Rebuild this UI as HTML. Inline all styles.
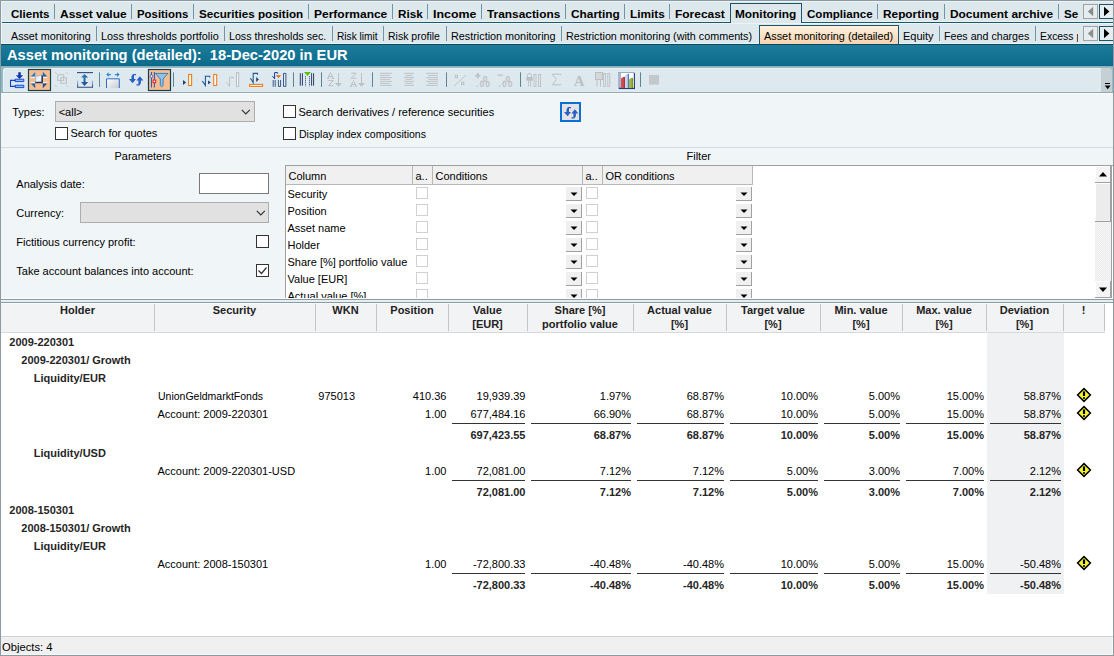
<!DOCTYPE html><html><head><meta charset="utf-8"><style>body{margin:0;width:1114px;height:656px;position:relative;overflow:hidden;background:#fff;font-family:"Liberation Sans",sans-serif}</style></head><body><div style="position:absolute;left:0px;top:0px;width:1114px;height:44px;background:#dde8ed"></div>
<div style="position:absolute;left:0px;top:21px;width:1114px;height:1px;background:#eaf0f4"></div>
<div style="position:absolute;left:0px;top:22px;width:1114px;height:1px;background:#17596e"></div>
<div style="position:absolute;left:1px;top:1px;width:1112px;height:1px;background:#e9f3f8"></div>
<div style="position:absolute;left:1px;top:1px;width:1px;height:43px;background:#e9f3f8"></div>
<div style="position:absolute;left:0px;top:23px;width:1114px;height:1px;background:#eef3f6"></div>
<div style="position:absolute;left:730px;top:3px;width:72px;height:20px;background:#dde8ed;border:1px solid #1d5468;border-bottom:none;box-sizing:border-box"></div>
<div style="position:absolute;left:10.50px;top:8.69px;font:bold 11px/1 'Liberation Sans';color:#000;white-space:pre;transform:scaleX(1.0494);transform-origin:0 0;">Clients</div>
<div style="position:absolute;left:59.50px;top:8.69px;font:bold 11px/1 'Liberation Sans';color:#000;white-space:pre;transform:scaleX(1.0906);transform-origin:0 0;">Asset value</div>
<div style="position:absolute;left:136.80px;top:8.69px;font:bold 11px/1 'Liberation Sans';color:#000;white-space:pre;transform:scaleX(1.0360);transform-origin:0 0;">Positions</div>
<div style="position:absolute;left:198.70px;top:8.69px;font:bold 11px/1 'Liberation Sans';color:#000;white-space:pre;transform:scaleX(1.0587);transform-origin:0 0;">Securities position</div>
<div style="position:absolute;left:313.90px;top:8.69px;font:bold 11px/1 'Liberation Sans';color:#000;white-space:pre;transform:scaleX(1.0897);transform-origin:0 0;">Performance</div>
<div style="position:absolute;left:397.90px;top:8.69px;font:bold 11px/1 'Liberation Sans';color:#000;white-space:pre;transform:scaleX(1.0624);transform-origin:0 0;">Risk</div>
<div style="position:absolute;left:432.70px;top:8.69px;font:bold 11px/1 'Liberation Sans';color:#000;white-space:pre;transform:scaleX(1.1268);transform-origin:0 0;">Income</div>
<div style="position:absolute;left:487.00px;top:8.69px;font:bold 11px/1 'Liberation Sans';color:#000;white-space:pre;transform:scaleX(1.0802);transform-origin:0 0;">Transactions</div>
<div style="position:absolute;left:570.50px;top:8.69px;font:bold 11px/1 'Liberation Sans';color:#000;white-space:pre;transform:scaleX(1.0810);transform-origin:0 0;">Charting</div>
<div style="position:absolute;left:629.50px;top:8.69px;font:bold 11px/1 'Liberation Sans';color:#000;white-space:pre;transform:scaleX(1.0708);transform-origin:0 0;">Limits</div>
<div style="position:absolute;left:674.60px;top:8.69px;font:bold 11px/1 'Liberation Sans';color:#000;white-space:pre;transform:scaleX(1.0859);transform-origin:0 0;">Forecast</div>
<div style="position:absolute;left:735.20px;top:8.69px;font:bold 11px/1 'Liberation Sans';color:#000;white-space:pre;transform:scaleX(1.0769);transform-origin:0 0;">Monitoring</div>
<div style="position:absolute;left:806.50px;top:8.69px;font:bold 11px/1 'Liberation Sans';color:#000;white-space:pre;transform:scaleX(1.0520);transform-origin:0 0;">Compliance</div>
<div style="position:absolute;left:883.00px;top:8.69px;font:bold 11px/1 'Liberation Sans';color:#000;white-space:pre;transform:scaleX(1.0760);transform-origin:0 0;">Reporting</div>
<div style="position:absolute;left:950.00px;top:8.69px;font:bold 11px/1 'Liberation Sans';color:#000;white-space:pre;transform:scaleX(1.0799);transform-origin:0 0;">Document archive</div>
<div style="position:absolute;left:54px;top:4px;width:1px;height:15px;background:#6f95a4"></div>
<div style="position:absolute;left:131px;top:4px;width:1px;height:15px;background:#6f95a4"></div>
<div style="position:absolute;left:193px;top:4px;width:1px;height:15px;background:#6f95a4"></div>
<div style="position:absolute;left:308px;top:4px;width:1px;height:15px;background:#6f95a4"></div>
<div style="position:absolute;left:392px;top:4px;width:1px;height:15px;background:#6f95a4"></div>
<div style="position:absolute;left:427px;top:4px;width:1px;height:15px;background:#6f95a4"></div>
<div style="position:absolute;left:481px;top:4px;width:1px;height:15px;background:#6f95a4"></div>
<div style="position:absolute;left:565px;top:4px;width:1px;height:15px;background:#6f95a4"></div>
<div style="position:absolute;left:624px;top:4px;width:1px;height:15px;background:#6f95a4"></div>
<div style="position:absolute;left:669px;top:4px;width:1px;height:15px;background:#6f95a4"></div>
<div style="position:absolute;left:877px;top:4px;width:1px;height:15px;background:#6f95a4"></div>
<div style="position:absolute;left:944px;top:4px;width:1px;height:15px;background:#6f95a4"></div>
<div style="position:absolute;left:1058px;top:4px;width:1px;height:15px;background:#6f95a4"></div>
<div style="position:absolute;left:1062px;top:0;width:18px;height:22px;overflow:hidden"><div style="position:absolute;left:1.5px;top:8.7px;font:bold 11px/1 'Liberation Sans';transform:scaleX(1.06);transform-origin:0 0;color:#000">Se</div></div>
<div style="position:absolute;left:759px;top:25px;width:140px;height:19px;background:linear-gradient(#fdf1de,#f6d3b0);border:1px solid #1d5468;border-bottom:none;box-sizing:border-box"></div>
<div style="position:absolute;left:10.50px;top:31.19px;font:normal 11px/1 'Liberation Sans';color:#000;white-space:pre;transform:scaleX(0.9739);transform-origin:0 0;">Asset monitoring</div>
<div style="position:absolute;left:101.00px;top:31.19px;font:normal 11px/1 'Liberation Sans';color:#000;white-space:pre;transform:scaleX(0.9871);transform-origin:0 0;">Loss thresholds portfolio</div>
<div style="position:absolute;left:228.80px;top:31.19px;font:normal 11px/1 'Liberation Sans';color:#000;white-space:pre;transform:scaleX(0.9693);transform-origin:0 0;">Loss thresholds sec.</div>
<div style="position:absolute;left:336.90px;top:31.19px;font:normal 11px/1 'Liberation Sans';color:#000;white-space:pre;transform:scaleX(0.9227);transform-origin:0 0;">Risk limit</div>
<div style="position:absolute;left:388.00px;top:31.19px;font:normal 11px/1 'Liberation Sans';color:#000;white-space:pre;transform:scaleX(0.9539);transform-origin:0 0;">Risk profile</div>
<div style="position:absolute;left:450.80px;top:31.19px;font:normal 11px/1 'Liberation Sans';color:#000;white-space:pre;transform:scaleX(0.9833);transform-origin:0 0;">Restriction monitoring</div>
<div style="position:absolute;left:566.30px;top:31.19px;font:normal 11px/1 'Liberation Sans';color:#000;white-space:pre;transform:scaleX(0.9788);transform-origin:0 0;">Restriction monitoring (with comments)</div>
<div style="position:absolute;left:763.50px;top:31.19px;font:normal 11px/1 'Liberation Sans';color:#000;white-space:pre;transform:scaleX(0.9874);transform-origin:0 0;">Asset monitoring (detailed)</div>
<div style="position:absolute;left:903.00px;top:31.19px;font:normal 11px/1 'Liberation Sans';color:#000;white-space:pre;">Equity</div>
<div style="position:absolute;left:944.30px;top:31.19px;font:normal 11px/1 'Liberation Sans';color:#000;white-space:pre;transform:scaleX(0.9686);transform-origin:0 0;">Fees and charges</div>
<div style="position:absolute;left:96px;top:26px;width:1px;height:15px;background:#6f95a4"></div>
<div style="position:absolute;left:224px;top:26px;width:1px;height:15px;background:#6f95a4"></div>
<div style="position:absolute;left:332px;top:26px;width:1px;height:15px;background:#6f95a4"></div>
<div style="position:absolute;left:383px;top:26px;width:1px;height:15px;background:#6f95a4"></div>
<div style="position:absolute;left:446px;top:26px;width:1px;height:15px;background:#6f95a4"></div>
<div style="position:absolute;left:561px;top:26px;width:1px;height:15px;background:#6f95a4"></div>
<div style="position:absolute;left:939px;top:26px;width:1px;height:15px;background:#6f95a4"></div>
<div style="position:absolute;left:1035px;top:26px;width:1px;height:15px;background:#6f95a4"></div>
<div style="position:absolute;left:1040px;top:22px;width:38px;height:22px;overflow:hidden"><div style="position:absolute;left:0.3px;top:9.2px;font:normal 11px/1 'Liberation Sans';color:#000;white-space:pre;transform:scaleX(0.945);transform-origin:0 0">Excess p</div></div>
<div style="position:absolute;left:1083px;top:4px;width:15px;height:15px;background:#e6edf1;border:1px solid #a3a3a3;box-sizing:border-box"></div>
<svg style="position:absolute;left:1083px;top:4px" width="15" height="15"><path d="M4.8 7.5 L10.2 2.7 L10.2 12.3 Z" fill="#8c8c8c"/></svg>
<div style="position:absolute;left:1099px;top:4px;width:16px;height:15px;background:#e6edf1;border:1px solid #1d5468;box-sizing:border-box"></div>
<svg style="position:absolute;left:1099px;top:4px" width="15" height="15"><path d="M5 2.7 L10.4 7.5 L5 12.3 Z" fill="#000"/></svg>
<div style="position:absolute;left:1083px;top:26px;width:15px;height:15px;background:#e6edf1;border:1px solid #a3a3a3;box-sizing:border-box"></div>
<svg style="position:absolute;left:1083px;top:26px" width="15" height="15"><path d="M4.8 7.5 L10.2 2.7 L10.2 12.3 Z" fill="#8c8c8c"/></svg>
<div style="position:absolute;left:1099px;top:26px;width:16px;height:15px;background:#e6edf1;border:1px solid #1d5468;box-sizing:border-box"></div>
<svg style="position:absolute;left:1099px;top:26px" width="15" height="15"><path d="M5 2.7 L10.4 7.5 L5 12.3 Z" fill="#000"/></svg>
<div style="position:absolute;left:0px;top:43px;width:759px;height:1px;background:#eaf3f8"></div>
<div style="position:absolute;left:899px;top:43px;width:215px;height:1px;background:#eaf3f8"></div>
<div style="position:absolute;left:0px;top:44px;width:1114px;height:22px;background:linear-gradient(#1f7c9b,#0b6b8b)"></div>
<div style="position:absolute;left:0px;top:44px;width:1114px;height:1px;background:#0a4b61"></div>
<div style="position:absolute;left:0px;top:65px;width:1114px;height:1px;background:#036a8b"></div>
<div style="position:absolute;left:6.80px;top:46.58px;font:bold 15.5px/1 'Liberation Sans';color:#fff;white-space:pre;transform:scaleX(0.9460);transform-origin:0 0;">Asset monitoring (detailed):  18-Dec-2020 in EUR</div>
<div style="position:absolute;left:0px;top:66px;width:1114px;height:1px;background:#9ea8ad"></div>
<div style="position:absolute;left:0px;top:67px;width:1114px;height:25px;background:#8dbccb"></div>
<div style="position:absolute;left:3px;top:68px;width:1099px;height:24px;background:#dde9ee;border-radius:3px;box-shadow:inset 1px 1px 0 #e9f2f5"></div>
<div style="position:absolute;left:3px;top:91px;width:1099px;height:1px;background:#dfecf1"></div>
<div style="position:absolute;left:0px;top:92px;width:1114px;height:1px;background:#9aa6ac"></div>
<div style="position:absolute;left:1101px;top:68px;width:11px;height:24px;background:#c5d0d5;border-radius:0 3px 0 0"></div>
<svg style="position:absolute;left:1100px;top:80px" width="14" height="12"><path d="M5 3.5h5" stroke="#000" stroke-width="1"/><path d="M4.8 5.6h5.8l-2.9 3.6z" fill="#000"/></svg>
<div style="position:absolute;left:0px;top:93px;width:1114px;height:1px;background:#f8fcfd"></div>
<div style="position:absolute;left:0px;top:94px;width:1114px;height:205px;background:#f0f5f8"></div>
<div style="position:absolute;left:0px;top:147px;width:1114px;height:1px;background:#d3dbe0"></div>
<svg style="position:absolute;left:0;top:0" width="1114" height="100" viewBox="0 0 1114 100"><defs><linearGradient id="gb" x1="0" y1="0" x2="1" y2="1"><stop offset="0" stop-color="#2f8fd0"/><stop offset="1" stop-color="#1d3f78"/></linearGradient><linearGradient id="gsq" x1="0" y1="0" x2="1" y2="1"><stop offset="0" stop-color="#b8c0d0"/><stop offset="0.5" stop-color="#f6f8fc"/><stop offset="1" stop-color="#c8d0e0"/></linearGradient><linearGradient id="gbox" x1="0" y1="0" x2="1" y2="1"><stop offset="0" stop-color="#ffffff"/><stop offset="1" stop-color="#c8cad8"/></linearGradient><linearGradient id="gbr" x1="0" y1="0" x2="0" y2="1"><stop offset="0" stop-color="#c0d4f4"/><stop offset="1" stop-color="#2a4a80"/></linearGradient></defs><path d="M18.3 72.3h2.5v3h2.3l-3.6 3.6-3.6-3.6h2.4z" fill="#1234a8"/><path d="M15.2 79.2h8.6v2.4h-8.6z M15.2 85.2h8.6v2.4h-8.6z" fill="#8fb8f0" stroke="#1a4ccc" stroke-width="1"/><path d="M15.5 80.4h-5v6h5" fill="none" stroke="#1540c0" stroke-width="1.1"/><rect x="28.5" y="69.5" width="22" height="21" fill="#f5be92" stroke="#173f4c" stroke-width="1.2"/><path d="M35.2 71.8 L35.2 76.8 L30.6 76.8 Z M42.8 71.8 L42.8 76.8 L47.4 76.8 Z M35.2 88.2 L35.2 83.2 L30.6 83.2 Z M42.8 88.2 L42.8 83.2 L47.4 83.2 Z" fill="url(#gb)"/><rect x="35.2" y="75.2" width="7.4" height="7.8" fill="url(#gsq)"/><path d="M35.4 83V75.4H42" fill="none" stroke="#aab2c6" stroke-width="0.9"/><path d="M42.2 75.2V82.6H35.2" fill="none" stroke="#1f3563" stroke-width="1.5"/><path d="M30.6 77.3H35 M43 77.3H47.4 M30.6 82.7H35 M43 82.7H47.4" stroke="#fff" stroke-width="1"/><rect x="57.7" y="74.8" width="6" height="5.6" fill="none" stroke="#bcc0c3" stroke-width="1"/><rect x="60.8" y="77.7" width="5.6" height="5.6" fill="none" stroke="#bcc0c3" stroke-width="1"/><path d="M55.3 72.3l1.5 1.5 M66.4 72.3l1.5 1.5 M55.3 85.2l1.5 1.5 M66.4 85.2l1.5 1.5" stroke="#bcc0c3" stroke-width="1"/><path d="M77 72.6h16" stroke="#2a4a7c" stroke-width="1.1"/><path d="M77.6 80v7.3h14.9V80" fill="none" stroke="url(#gbr)" stroke-width="1.1"/><path d="M84.5 74l3.6 3.6h-2.6v4.3h2.6l-3.6 4.1-3.6-4.1h2.6v-4.3h-2.6z" fill="url(#gb)"/><path d="M99.5 72.3v14.6" stroke="#5b8595" stroke-width="1"/><path d="M173.5 72.3v14.6" stroke="#5b8595" stroke-width="1"/><path d="M293.5 72.3v14.6" stroke="#5b8595" stroke-width="1"/><path d="M321.5 72.3v14.6" stroke="#5b8595" stroke-width="1"/><path d="M372.5 72.3v14.6" stroke="#5b8595" stroke-width="1"/><path d="M446.5 72.3v14.6" stroke="#5b8595" stroke-width="1"/><path d="M520.5 72.3v14.6" stroke="#5b8595" stroke-width="1"/><path d="M640.5 72.3v14.6" stroke="#5b8595" stroke-width="1"/><path d="M106.5 88V78.8h12.8V88" fill="url(#gbox)" stroke="#2c6cc4" stroke-width="1"/><path d="M106.2 74.6l2.5-2.3v1.6h2.2v1.4h-2.2v1.6z M119.6 74.6l-2.5-2.3v1.6h-2.2v1.4h2.2v1.6z" fill="#2a88cc"/><g transform="translate(129,74)"><path d="M0 5H7L3.6 9.2Z M2.5 5V2.2L4 0H7V1.3H5V5Z M14.4 6.5H7.4L10.8 2.3Z M11.9 6.5V9.3L10.4 11.5H7.4V10.2H9.4V6.5Z" fill="#2c5fc6"/></g><rect x="148.5" y="69.5" width="22" height="21" fill="#f5be92" stroke="#173f4c" stroke-width="1.2"/><path d="M151.5 72v15.6 M154.4 72v15.6" stroke="#2c5cc8" stroke-width="1.1"/><circle cx="151.5" cy="76.3" r="1.4" fill="#fff" stroke="#2c5cc8" stroke-width="0.9"/><rect x="153.1" y="80.1" width="2.6" height="2.6" fill="#fff" stroke="#e82010" stroke-width="1"/><path d="M155.4 73.4h12.6l-4.9 5.6v6.6l-1.4 1.3-1.4-1.3v-6.6z" fill="#8cc4f0" stroke="#2a6cb0" stroke-width="0.8"/><path d="M183 79.9l3.1 2.5-3.1 2.6z" fill="#2b3f6c"/><rect x="188.6" y="74.5" width="3" height="11" fill="#fff" stroke="#f07d1a" stroke-width="1.1"/><path d="M202.2 81.2l1.2 1.2 M203.4 82.4l2 3.1v-9.2h4.3v1.3" fill="none" stroke="#1f5a9a" stroke-width="1.1"/><path d="M208 80.6l2.9 1.8-2.9 1.8z" fill="#2b3f6c"/><rect x="213.7" y="74.5" width="3" height="11" fill="#fff" stroke="#f07d1a" stroke-width="1.1"/><path d="M226.4 82.3l1 1 M227.4 83.3l2.2 3.2v-9.2h4v1.3" fill="none" stroke="#bcc0c3" stroke-width="1"/><rect x="236.5" y="72.6" width="2.2" height="13.8" fill="#eef0f2" stroke="#bcc0c3" stroke-width="1"/><path d="M250.2 78.3l1 1 M251.2 79.3l2 3.4v-9.3h4.3v1.3" fill="none" stroke="#1f5a9a" stroke-width="1.1"/><path d="M256.2 77l2.7 2.4-2.7 2.5z" fill="#2b3f6c"/><rect x="249.6" y="84.4" width="13" height="2" fill="#fff" stroke="#f07d1a" stroke-width="1.1"/><path d="M272.3 76l.8.8 M273.1 76.8l1.5 2v-6.2h3v1" fill="none" stroke="#1a3aa0" stroke-width="1"/><path d="M275.8 75.2h5.4l-2.7 2.8z" fill="#e06a10"/><path d="M273.2 80v6.8 M275.2 80v6.8 M278.4 80v6.4h2.2V80 M283.5 73.4v13h2.4v-13z" fill="none" stroke="#3a5a8a" stroke-width="1"/><path d="M300.3 73.2v12.5 M302.4 73.2v12.5 M311.6 73.2v12.5 M313.6 73.2v12.5" stroke="#2b3f6c" stroke-width="1"/><path d="M305.5 76.3v10.2 M309.5 76.3v10.2" stroke="#2b3f6c" stroke-width="1" stroke-dasharray="1 1"/><path d="M304 72h7l-3.5 3.9z" fill="#5cc010"/><path d="M330.5 72.4v1.5 M329.6 73.9l-1.7 4.4 M331.4 73.9l1.7 4.4 M328.6 76.5h3.8 M327 78.30000000000001h2.4 M331.6 78.30000000000001h2.4 M328.4 80.5h5l-5 5.2h5.2" fill="none" stroke="#bcc0c3" stroke-width="1"/><path d="M338.5 73v11" stroke="#bcc0c3" stroke-width="1"/><path d="M335 83h7l-3.5 3.8z" fill="#bcc0c3"/><path d="M351.2 73.1h5l-5 5.2h5.2 M353.5 80.4v1.5 M352.6 81.9l-1.7 4.4 M354.4 81.9l1.7 4.4 M351.6 84.5h3.8 M350 86.30000000000001h2.4 M354.6 86.30000000000001h2.4" fill="none" stroke="#bcc0c3" stroke-width="1"/><path d="M361.5 73v11" stroke="#bcc0c3" stroke-width="1"/><path d="M358 83h7l-3.5 3.8z" fill="#bcc0c3"/><path d="M380 73.3h12 M380 75.4h10 M380 77.5h12 M380 79.4h10 M380 81.4h12 M380 83.4h10 M380 85.4h12 M404 73.3h10 M405.5 75.4h7 M404 77.5h10 M405.5 79.4h7 M404 81.4h10 M405.5 83.4h7 M404 85.4h10 M426 73.3h12 M428 75.4h10 M426 77.5h12 M428 79.4h10 M426 81.4h12 M428 83.4h10 M426 85.4h12 " stroke="#bcc0c3" stroke-width="0.9"/><rect x="455.3" y="75.4" width="2.3" height="2.3" fill="none" stroke="#bcc0c3" stroke-width="1"/><rect x="461.5" y="82.2" width="2.3" height="2.3" fill="none" stroke="#bcc0c3" stroke-width="1"/><path d="M454 86l12-10.8" stroke="#bcc0c3" stroke-width="0.9"/><path d="M475.3 75.6h5 M477.8 73v5.2" stroke="#bcc0c3" stroke-width="1.8"/><text x="480.5" y="81.6" font-family="Liberation Sans" font-weight="bold" font-size="8.5" fill="#bcc0c3">.0</text><text x="476" y="87.4" font-family="Liberation Sans" font-weight="bold" font-size="8.5" fill="#bcc0c3" textLength="14">.00</text><path d="M497.6 75.3h5.2" stroke="#c8ccd0" stroke-width="2"/><text x="503.2" y="81.6" font-family="Liberation Sans" font-weight="bold" font-size="8.5" fill="#bcc0c3">.0</text><text x="498.6" y="87.4" font-family="Liberation Sans" font-weight="bold" font-size="8.5" fill="#bcc0c3" textLength="14">.00</text><path d="M527.5 77v-1.5a2 2 0 0 1 4 0V77" fill="none" stroke="#bcc0c3" stroke-width="1"/><rect x="526.3" y="77" width="6.4" height="3.6" fill="#bcc0c3"/><path d="M528.6 80v6.6 M530.6 80v6.6" stroke="#bcc0c3" stroke-width="0.9"/><rect x="534" y="74.5" width="2" height="12" fill="none" stroke="#bcc0c3" stroke-width="0.9"/><rect x="538.6" y="74.5" width="2" height="12" fill="none" stroke="#bcc0c3" stroke-width="0.9"/><path d="M560.8 75.2v-1h-8.6l4.3 5.3-4.3 5.3h8.6v-1" fill="none" stroke="#bcc0c3" stroke-width="1"/><text x="573.8" y="85.7" font-family="Liberation Serif" font-weight="bold" font-size="15" fill="#bcc0c3">A</text><rect x="595.5" y="72.5" width="7" height="7" fill="#d4d8db" stroke="#bcc0c3" stroke-width="1"/><path d="M597 80v6.6 M600.5 80v6.6" stroke="#bcc0c3" stroke-width="1"/><rect x="603.6" y="73.5" width="2" height="13" fill="none" stroke="#bcc0c3" stroke-width="0.9"/><rect x="607.8" y="73.5" width="2" height="13" fill="none" stroke="#bcc0c3" stroke-width="0.9"/><rect x="618" y="72" width="17" height="17" fill="#fff"/><rect x="618" y="72" width="3" height="17" fill="#a9b5cc"/><path d="M618 72.5h16.5" stroke="#9aa8c4" stroke-width="1"/><path d="M634.4 73v15.5" stroke="#2c4478" stroke-width="1.2"/><path d="M619 88.4h16" stroke="#263c74" stroke-width="1.3"/><path d="M621 88v-9.6l2-1.5h1.8v11.1z" fill="#d45050"/><path d="M623.8 88v-11l1-.3v11.3z" fill="#a02828"/><path d="M625 88v-12.6l2-1.5h1.8v14.1z" fill="#c8d4f4"/><path d="M627.8 88v-13.9l1-.3v14.2z" fill="#3c5cc8"/><path d="M629 88v-8.6l2-1.5h1.8v10.1z" fill="#a0bc3c"/><path d="M631.8 88v-10l1-.3v10.3z" fill="#6a8a18"/><rect x="649" y="75" width="10" height="9.6" fill="#c4c8cb"/></svg>
<div style="position:absolute;left:12.20px;top:106.69px;font:normal 11px/1 'Liberation Sans';color:#000;white-space:pre;">Types:</div>
<div style="position:absolute;left:55px;top:101px;width:200px;height:21px;background:#e1e1e1;border:1px solid #adadad;box-sizing:border-box"></div>
<div style="position:absolute;left:58.70px;top:106.69px;font:normal 11px/1 'Liberation Sans';color:#000;white-space:pre;">&lt;all&gt;</div>
<svg style="position:absolute;left:240px;top:107px" width="12" height="8"><path d="M1.8 2.8l4 4 4-4" fill="none" stroke="#303030" stroke-width="1.2"/></svg>
<div style="position:absolute;left:55px;top:127px;width:13px;height:13px;background:#fff;border:1px solid #333;box-sizing:border-box"></div>
<div style="position:absolute;left:70.50px;top:128.19px;font:normal 11px/1 'Liberation Sans';color:#000;white-space:pre;">Search for quotes</div>
<div style="position:absolute;left:283px;top:105px;width:13px;height:13px;background:#fff;border:1px solid #333;box-sizing:border-box"></div>
<div style="position:absolute;left:298.50px;top:107.19px;font:normal 11px/1 'Liberation Sans';color:#000;white-space:pre;">Search derivatives / reference securities</div>
<div style="position:absolute;left:283px;top:127px;width:13px;height:13px;background:#fff;border:1px solid #333;box-sizing:border-box"></div>
<div style="position:absolute;left:298.50px;top:128.69px;font:normal 11px/1 'Liberation Sans';color:#000;white-space:pre;transform:scaleX(0.9572);transform-origin:0 0;">Display index compositions</div>
<div style="position:absolute;left:560px;top:102px;width:21px;height:20px;background:#e3e3e3;border:2px solid #0c6fd8;box-sizing:border-box"></div>
<svg style="position:absolute;left:560px;top:102px" width="21" height="20" viewBox="560 102 21 20"><g transform="translate(564,107)"><path d="M0 5H7L3.6 9.2Z M2.5 5V2.2L4 0H7V1.3H5V5Z M14.4 6.5H7.4L10.8 2.3Z M11.9 6.5V9.3L10.4 11.5H7.4V10.2H9.4V6.5Z" fill="#2c5fc6"/></g></svg>
<div style="position:absolute;left:114.50px;top:151.19px;font:normal 11px/1 'Liberation Sans';color:#000;white-space:pre;">Parameters</div>
<div style="position:absolute;left:16.30px;top:178.69px;font:normal 11px/1 'Liberation Sans';color:#000;white-space:pre;">Analysis date:</div>
<div style="position:absolute;left:199px;top:173px;width:70px;height:21px;background:#fff;border:1px solid #7a7a7a;box-sizing:border-box"></div>
<div style="position:absolute;left:16.30px;top:207.69px;font:normal 11px/1 'Liberation Sans';color:#000;white-space:pre;">Currency:</div>
<div style="position:absolute;left:80px;top:202px;width:189px;height:21px;background:#e1e1e1;border:1px solid #adadad;box-sizing:border-box"></div>
<svg style="position:absolute;left:255px;top:208px" width="12" height="8"><path d="M1.8 2.8l4 4 4-4" fill="none" stroke="#303030" stroke-width="1.2"/></svg>
<div style="position:absolute;left:16.30px;top:236.69px;font:normal 11px/1 'Liberation Sans';color:#000;white-space:pre;">Fictitious currency profit:</div>
<div style="position:absolute;left:256px;top:235px;width:13px;height:13px;background:#fff;border:1px solid #333;box-sizing:border-box"></div>
<div style="position:absolute;left:16.30px;top:265.69px;font:normal 11px/1 'Liberation Sans';color:#000;white-space:pre;">Take account balances into account:</div>
<div style="position:absolute;left:256px;top:264px;width:13px;height:13px;background:#fff;border:1px solid #333;box-sizing:border-box"></div>
<svg style="position:absolute;left:256px;top:264px" width="13" height="13"><path d="M2.5 6.5l3 3 5-6" fill="none" stroke="#333" stroke-width="1.2"/></svg>
<div style="position:absolute;left:686.50px;top:151.19px;font:normal 11px/1 'Liberation Sans';color:#000;white-space:pre;">Filter</div>
<div style="position:absolute;left:285px;top:165px;width:828px;height:134px;background:#fff;border:1px solid #a0a0a0;border-right:none;border-bottom:none;box-sizing:border-box"></div>
<div style="position:absolute;left:286px;top:166px;width:467px;height:19px;background:#f0f0f0;border-bottom:1px solid #b8b8b8;box-sizing:border-box"></div>
<div style="position:absolute;left:412px;top:166px;width:1px;height:19px;background:#b8b8b8"></div>
<div style="position:absolute;left:432px;top:166px;width:1px;height:19px;background:#b8b8b8"></div>
<div style="position:absolute;left:582px;top:166px;width:1px;height:19px;background:#b8b8b8"></div>
<div style="position:absolute;left:602px;top:166px;width:1px;height:19px;background:#b8b8b8"></div>
<div style="position:absolute;left:752px;top:166px;width:1px;height:19px;background:#b8b8b8"></div>
<div style="position:absolute;left:288.50px;top:170.69px;font:normal 11px/1 'Liberation Sans';color:#000;white-space:pre;">Column</div>
<div style="position:absolute;left:415.50px;top:170.69px;font:normal 11px/1 'Liberation Sans';color:#000;white-space:pre;">a..</div>
<div style="position:absolute;left:435.50px;top:170.69px;font:normal 11px/1 'Liberation Sans';color:#000;white-space:pre;">Conditions</div>
<div style="position:absolute;left:585.50px;top:170.69px;font:normal 11px/1 'Liberation Sans';color:#000;white-space:pre;">a..</div>
<div style="position:absolute;left:605.50px;top:170.69px;font:normal 11px/1 'Liberation Sans';color:#000;white-space:pre;">OR conditions</div>
<div style="position:absolute;left:286px;top:185px;width:808px;height:113px;overflow:hidden">
<div style="position:absolute;left:130px;top:2px;width:12px;height:12px;border:1px solid #d0d0d0;box-sizing:border-box;background:#fff"></div>
<div style="position:absolute;left:300px;top:2px;width:12px;height:12px;border:1px solid #d0d0d0;box-sizing:border-box;background:#fff"></div>
<div style="position:absolute;left:280px;top:1.5px;width:16px;height:14px;background:#f0f0f0;border-right:1px solid #a0a0a0;border-bottom:1px solid #a0a0a0;box-sizing:border-box"></div>
<svg style="position:absolute;left:280px;top:1.5px" width="16" height="14"><path d="M4.5 5.5h7l-3.5 3.5z" fill="#000"/></svg>
<div style="position:absolute;left:450px;top:1.5px;width:16px;height:14px;background:#f0f0f0;border-right:1px solid #a0a0a0;border-bottom:1px solid #a0a0a0;box-sizing:border-box"></div>
<svg style="position:absolute;left:450px;top:1.5px" width="16" height="14"><path d="M4.5 5.5h7l-3.5 3.5z" fill="#000"/></svg>
<div style="position:absolute;left:1.5px;top:4.19px;font:11px/1 'Liberation Sans';white-space:pre;color:#000">Security</div>
<div style="position:absolute;left:130px;top:19px;width:12px;height:12px;border:1px solid #d0d0d0;box-sizing:border-box;background:#fff"></div>
<div style="position:absolute;left:300px;top:19px;width:12px;height:12px;border:1px solid #d0d0d0;box-sizing:border-box;background:#fff"></div>
<div style="position:absolute;left:280px;top:18.5px;width:16px;height:14px;background:#f0f0f0;border-right:1px solid #a0a0a0;border-bottom:1px solid #a0a0a0;box-sizing:border-box"></div>
<svg style="position:absolute;left:280px;top:18.5px" width="16" height="14"><path d="M4.5 5.5h7l-3.5 3.5z" fill="#000"/></svg>
<div style="position:absolute;left:450px;top:18.5px;width:16px;height:14px;background:#f0f0f0;border-right:1px solid #a0a0a0;border-bottom:1px solid #a0a0a0;box-sizing:border-box"></div>
<svg style="position:absolute;left:450px;top:18.5px" width="16" height="14"><path d="M4.5 5.5h7l-3.5 3.5z" fill="#000"/></svg>
<div style="position:absolute;left:1.5px;top:21.19px;font:11px/1 'Liberation Sans';white-space:pre;color:#000">Position</div>
<div style="position:absolute;left:130px;top:36px;width:12px;height:12px;border:1px solid #d0d0d0;box-sizing:border-box;background:#fff"></div>
<div style="position:absolute;left:300px;top:36px;width:12px;height:12px;border:1px solid #d0d0d0;box-sizing:border-box;background:#fff"></div>
<div style="position:absolute;left:280px;top:35.5px;width:16px;height:14px;background:#f0f0f0;border-right:1px solid #a0a0a0;border-bottom:1px solid #a0a0a0;box-sizing:border-box"></div>
<svg style="position:absolute;left:280px;top:35.5px" width="16" height="14"><path d="M4.5 5.5h7l-3.5 3.5z" fill="#000"/></svg>
<div style="position:absolute;left:450px;top:35.5px;width:16px;height:14px;background:#f0f0f0;border-right:1px solid #a0a0a0;border-bottom:1px solid #a0a0a0;box-sizing:border-box"></div>
<svg style="position:absolute;left:450px;top:35.5px" width="16" height="14"><path d="M4.5 5.5h7l-3.5 3.5z" fill="#000"/></svg>
<div style="position:absolute;left:1.5px;top:38.19px;font:11px/1 'Liberation Sans';white-space:pre;color:#000">Asset name</div>
<div style="position:absolute;left:130px;top:53px;width:12px;height:12px;border:1px solid #d0d0d0;box-sizing:border-box;background:#fff"></div>
<div style="position:absolute;left:300px;top:53px;width:12px;height:12px;border:1px solid #d0d0d0;box-sizing:border-box;background:#fff"></div>
<div style="position:absolute;left:280px;top:52.5px;width:16px;height:14px;background:#f0f0f0;border-right:1px solid #a0a0a0;border-bottom:1px solid #a0a0a0;box-sizing:border-box"></div>
<svg style="position:absolute;left:280px;top:52.5px" width="16" height="14"><path d="M4.5 5.5h7l-3.5 3.5z" fill="#000"/></svg>
<div style="position:absolute;left:450px;top:52.5px;width:16px;height:14px;background:#f0f0f0;border-right:1px solid #a0a0a0;border-bottom:1px solid #a0a0a0;box-sizing:border-box"></div>
<svg style="position:absolute;left:450px;top:52.5px" width="16" height="14"><path d="M4.5 5.5h7l-3.5 3.5z" fill="#000"/></svg>
<div style="position:absolute;left:1.5px;top:55.19px;font:11px/1 'Liberation Sans';white-space:pre;color:#000">Holder</div>
<div style="position:absolute;left:130px;top:70px;width:12px;height:12px;border:1px solid #d0d0d0;box-sizing:border-box;background:#fff"></div>
<div style="position:absolute;left:300px;top:70px;width:12px;height:12px;border:1px solid #d0d0d0;box-sizing:border-box;background:#fff"></div>
<div style="position:absolute;left:280px;top:69.5px;width:16px;height:14px;background:#f0f0f0;border-right:1px solid #a0a0a0;border-bottom:1px solid #a0a0a0;box-sizing:border-box"></div>
<svg style="position:absolute;left:280px;top:69.5px" width="16" height="14"><path d="M4.5 5.5h7l-3.5 3.5z" fill="#000"/></svg>
<div style="position:absolute;left:450px;top:69.5px;width:16px;height:14px;background:#f0f0f0;border-right:1px solid #a0a0a0;border-bottom:1px solid #a0a0a0;box-sizing:border-box"></div>
<svg style="position:absolute;left:450px;top:69.5px" width="16" height="14"><path d="M4.5 5.5h7l-3.5 3.5z" fill="#000"/></svg>
<div style="position:absolute;left:1.5px;top:72.19px;font:11px/1 'Liberation Sans';white-space:pre;color:#000">Share [%] portfolio value</div>
<div style="position:absolute;left:130px;top:87px;width:12px;height:12px;border:1px solid #d0d0d0;box-sizing:border-box;background:#fff"></div>
<div style="position:absolute;left:300px;top:87px;width:12px;height:12px;border:1px solid #d0d0d0;box-sizing:border-box;background:#fff"></div>
<div style="position:absolute;left:280px;top:86.5px;width:16px;height:14px;background:#f0f0f0;border-right:1px solid #a0a0a0;border-bottom:1px solid #a0a0a0;box-sizing:border-box"></div>
<svg style="position:absolute;left:280px;top:86.5px" width="16" height="14"><path d="M4.5 5.5h7l-3.5 3.5z" fill="#000"/></svg>
<div style="position:absolute;left:450px;top:86.5px;width:16px;height:14px;background:#f0f0f0;border-right:1px solid #a0a0a0;border-bottom:1px solid #a0a0a0;box-sizing:border-box"></div>
<svg style="position:absolute;left:450px;top:86.5px" width="16" height="14"><path d="M4.5 5.5h7l-3.5 3.5z" fill="#000"/></svg>
<div style="position:absolute;left:1.5px;top:89.19px;font:11px/1 'Liberation Sans';white-space:pre;color:#000">Value [EUR]</div>
<div style="position:absolute;left:130px;top:104px;width:12px;height:12px;border:1px solid #d0d0d0;box-sizing:border-box;background:#fff"></div>
<div style="position:absolute;left:300px;top:104px;width:12px;height:12px;border:1px solid #d0d0d0;box-sizing:border-box;background:#fff"></div>
<div style="position:absolute;left:280px;top:103.5px;width:16px;height:14px;background:#f0f0f0;border-right:1px solid #a0a0a0;border-bottom:1px solid #a0a0a0;box-sizing:border-box"></div>
<svg style="position:absolute;left:280px;top:103.5px" width="16" height="14"><path d="M4.5 5.5h7l-3.5 3.5z" fill="#000"/></svg>
<div style="position:absolute;left:450px;top:103.5px;width:16px;height:14px;background:#f0f0f0;border-right:1px solid #a0a0a0;border-bottom:1px solid #a0a0a0;box-sizing:border-box"></div>
<svg style="position:absolute;left:450px;top:103.5px" width="16" height="14"><path d="M4.5 5.5h7l-3.5 3.5z" fill="#000"/></svg>
<div style="position:absolute;left:1.5px;top:106.19px;font:11px/1 'Liberation Sans';white-space:pre;color:#000">Actual value [%]</div>
</div>
<div style="position:absolute;left:1095px;top:166px;width:16px;height:132px;background:repeating-conic-gradient(#f6f6f6 0 25%,#ececec 0 50%) 0 0/2px 2px"></div>
<div style="position:absolute;left:1095px;top:166px;width:16px;height:17px;background:#f4f4f4;border-right:1px solid #a0a0a0;border-bottom:1px solid #a0a0a0;box-shadow:inset 1px 1px 0 #fff;box-sizing:border-box"></div>
<svg style="position:absolute;left:1095px;top:166px" width="16" height="17"><path d="M4 10.5h8l-4-4.5z" fill="#000"/></svg>
<div style="position:absolute;left:1095px;top:183px;width:16px;height:39px;background:#ececec;border-right:1px solid #a0a0a0;border-bottom:1px solid #a0a0a0;box-shadow:inset 1px 1px 0 #fff;box-sizing:border-box"></div>
<div style="position:absolute;left:1095px;top:281px;width:16px;height:17px;background:#f4f4f4;border-right:1px solid #a0a0a0;border-bottom:1px solid #a0a0a0;box-shadow:inset 1px 1px 0 #fff;box-sizing:border-box"></div>
<svg style="position:absolute;left:1095px;top:281px" width="16" height="17"><path d="M4 6.5h8l-4 4.5z" fill="#000"/></svg>
<div style="position:absolute;left:1111px;top:165px;width:1px;height:134px;background:#a0a0a0"></div>
<div style="position:absolute;left:0px;top:298px;width:1114px;height:1px;background:#fafcfd"></div>
<div style="position:absolute;left:0px;top:299px;width:1114px;height:4px;background:#e2eff5"></div>
<div style="position:absolute;left:0px;top:299px;width:1114px;height:1px;background:#8f9ba2"></div>
<div style="position:absolute;left:0px;top:302px;width:1114px;height:1px;background:#8f9ba2"></div>
<div style="position:absolute;left:1px;top:303px;width:1104px;height:29px;background:#f2f3f5"></div>
<div style="position:absolute;left:1px;top:332px;width:1104px;height:1px;background:#d8d8d8"></div>
<div style="position:absolute;left:1px;top:303px;width:1104px;height:1px;background:#fafafa"></div>
<div style="position:absolute;left:154px;top:304px;width:1px;height:27px;background:#c4c4c4"></div>
<div style="position:absolute;left:315px;top:304px;width:1px;height:27px;background:#c4c4c4"></div>
<div style="position:absolute;left:376px;top:304px;width:1px;height:27px;background:#c4c4c4"></div>
<div style="position:absolute;left:448px;top:304px;width:1px;height:27px;background:#c4c4c4"></div>
<div style="position:absolute;left:527px;top:304px;width:1px;height:27px;background:#c4c4c4"></div>
<div style="position:absolute;left:633px;top:304px;width:1px;height:27px;background:#c4c4c4"></div>
<div style="position:absolute;left:726px;top:304px;width:1px;height:27px;background:#c4c4c4"></div>
<div style="position:absolute;left:820px;top:304px;width:1px;height:27px;background:#c4c4c4"></div>
<div style="position:absolute;left:902px;top:304px;width:1px;height:27px;background:#c4c4c4"></div>
<div style="position:absolute;left:986px;top:304px;width:1px;height:27px;background:#c4c4c4"></div>
<div style="position:absolute;left:1063px;top:304px;width:1px;height:27px;background:#c4c4c4"></div>
<div style="position:absolute;left:1104px;top:304px;width:1px;height:27px;background:#c4c4c4"></div>
<div style="position:absolute;left:60.08px;top:304.69px;font:bold 11px/1 'Liberation Sans';color:#222;white-space:pre;">Holder</div>
<div style="position:absolute;left:212.79px;top:304.69px;font:bold 11px/1 'Liberation Sans';color:#222;white-space:pre;">Security</div>
<div style="position:absolute;left:332.36px;top:304.69px;font:bold 11px/1 'Liberation Sans';color:#222;white-space:pre;">WKN</div>
<div style="position:absolute;left:390.30px;top:304.69px;font:bold 11px/1 'Liberation Sans';color:#222;white-space:pre;">Position</div>
<div style="position:absolute;left:473.12px;top:304.69px;font:bold 11px/1 'Liberation Sans';color:#222;white-space:pre;">Value</div>
<div style="position:absolute;left:472.22px;top:318.69px;font:bold 11px/1 'Liberation Sans';color:#222;white-space:pre;">[EUR]</div>
<div style="position:absolute;left:554.62px;top:304.69px;font:bold 11px/1 'Liberation Sans';color:#222;white-space:pre;">Share [%]</div>
<div style="position:absolute;left:542.11px;top:318.69px;font:bold 11px/1 'Liberation Sans';color:#222;white-space:pre;">portfolio value</div>
<div style="position:absolute;left:647.09px;top:304.69px;font:bold 11px/1 'Liberation Sans';color:#222;white-space:pre;">Actual value</div>
<div style="position:absolute;left:670.95px;top:318.69px;font:bold 11px/1 'Liberation Sans';color:#222;white-space:pre;">[%]</div>
<div style="position:absolute;left:741.00px;top:304.69px;font:bold 11px/1 'Liberation Sans';color:#222;white-space:pre;">Target value</div>
<div style="position:absolute;left:764.45px;top:318.69px;font:bold 11px/1 'Liberation Sans';color:#222;white-space:pre;">[%]</div>
<div style="position:absolute;left:834.41px;top:304.69px;font:bold 11px/1 'Liberation Sans';color:#222;white-space:pre;">Min. value</div>
<div style="position:absolute;left:852.45px;top:318.69px;font:bold 11px/1 'Liberation Sans';color:#222;white-space:pre;">[%]</div>
<div style="position:absolute;left:916.18px;top:304.69px;font:bold 11px/1 'Liberation Sans';color:#222;white-space:pre;">Max. value</div>
<div style="position:absolute;left:935.45px;top:318.69px;font:bold 11px/1 'Liberation Sans';color:#222;white-space:pre;">[%]</div>
<div style="position:absolute;left:999.74px;top:304.69px;font:bold 11px/1 'Liberation Sans';color:#222;white-space:pre;">Deviation</div>
<div style="position:absolute;left:1015.95px;top:318.69px;font:bold 11px/1 'Liberation Sans';color:#222;white-space:pre;">[%]</div>
<div style="position:absolute;left:1081.66px;top:304.69px;font:bold 11px/1 'Liberation Sans';color:#222;white-space:pre;">!</div>
<div style="position:absolute;left:987px;top:333px;width:77px;height:261px;background:#f0f1f3"></div>
<div style="position:absolute;left:9.30px;top:336.69px;font:bold 11px/1 'Liberation Sans';color:#262626;white-space:pre;">2009-220301</div>
<div style="position:absolute;left:21.30px;top:354.69px;font:bold 11px/1 'Liberation Sans';color:#262626;white-space:pre;">2009-220301/ Growth</div>
<div style="position:absolute;left:33.80px;top:372.69px;font:bold 11px/1 'Liberation Sans';color:#262626;white-space:pre;">Liquidity/EUR</div>
<div style="position:absolute;left:157.50px;top:390.69px;font:normal 11px/1 'Liberation Sans';color:#000;white-space:pre;transform:scaleX(0.9540);transform-origin:0 0;">UnionGeldmarktFonds</div>
<div style="position:absolute;left:318.30px;top:390.69px;font:normal 11px/1 'Liberation Sans';color:#000;white-space:pre;">975013</div>
<div style="position:absolute;left:412.84px;top:390.69px;font:normal 11px/1 'Liberation Sans';color:#000;white-space:pre;">410.36</div>
<div style="position:absolute;left:476.56px;top:390.69px;font:normal 11px/1 'Liberation Sans';color:#000;white-space:pre;">19,939.39</div>
<div style="position:absolute;left:599.80px;top:390.69px;font:normal 11px/1 'Liberation Sans';color:#000;white-space:pre;">1.97%</div>
<div style="position:absolute;left:686.69px;top:390.69px;font:normal 11px/1 'Liberation Sans';color:#000;white-space:pre;">68.87%</div>
<div style="position:absolute;left:780.69px;top:390.69px;font:normal 11px/1 'Liberation Sans';color:#000;white-space:pre;">10.00%</div>
<div style="position:absolute;left:868.80px;top:390.69px;font:normal 11px/1 'Liberation Sans';color:#000;white-space:pre;">5.00%</div>
<div style="position:absolute;left:946.69px;top:390.69px;font:normal 11px/1 'Liberation Sans';color:#000;white-space:pre;">15.00%</div>
<div style="position:absolute;left:1023.69px;top:390.69px;font:normal 11px/1 'Liberation Sans';color:#000;white-space:pre;">58.87%</div>
<svg style="position:absolute;left:1076px;top:387.2px" width="16" height="16"><path d="M8 1.6L14.4 8L8 14.4L1.6 8Z" fill="#f6f62a" stroke="#000" stroke-width="1.5"/><path d="M8 4.4v4.6" stroke="#000" stroke-width="2.2"/><rect x="7" y="10.2" width="2" height="1.6" fill="#000"/></svg>
<div style="position:absolute;left:157.50px;top:408.69px;font:normal 11px/1 'Liberation Sans';color:#000;white-space:pre;">Account: 2009-220301</div>
<div style="position:absolute;left:425.08px;top:408.69px;font:normal 11px/1 'Liberation Sans';color:#000;white-space:pre;">1.00</div>
<div style="position:absolute;left:470.44px;top:408.69px;font:normal 11px/1 'Liberation Sans';color:#000;white-space:pre;">677,484.16</div>
<div style="position:absolute;left:593.69px;top:408.69px;font:normal 11px/1 'Liberation Sans';color:#000;white-space:pre;">66.90%</div>
<div style="position:absolute;left:686.69px;top:408.69px;font:normal 11px/1 'Liberation Sans';color:#000;white-space:pre;">68.87%</div>
<div style="position:absolute;left:780.69px;top:408.69px;font:normal 11px/1 'Liberation Sans';color:#000;white-space:pre;">10.00%</div>
<div style="position:absolute;left:868.80px;top:408.69px;font:normal 11px/1 'Liberation Sans';color:#000;white-space:pre;">5.00%</div>
<div style="position:absolute;left:946.69px;top:408.69px;font:normal 11px/1 'Liberation Sans';color:#000;white-space:pre;">15.00%</div>
<div style="position:absolute;left:1023.69px;top:408.69px;font:normal 11px/1 'Liberation Sans';color:#000;white-space:pre;">58.87%</div>
<svg style="position:absolute;left:1076px;top:405.2px" width="16" height="16"><path d="M8 1.6L14.4 8L8 14.4L1.6 8Z" fill="#f6f62a" stroke="#000" stroke-width="1.5"/><path d="M8 4.4v4.6" stroke="#000" stroke-width="2.2"/><rect x="7" y="10.2" width="2" height="1.6" fill="#000"/></svg>
<div style="position:absolute;left:452px;top:423px;width:73px;height:1px;background:#333"></div>
<div style="position:absolute;left:531px;top:423px;width:100px;height:1px;background:#333"></div>
<div style="position:absolute;left:637px;top:423px;width:87px;height:1px;background:#333"></div>
<div style="position:absolute;left:730px;top:423px;width:88px;height:1px;background:#333"></div>
<div style="position:absolute;left:824px;top:423px;width:76px;height:1px;background:#333"></div>
<div style="position:absolute;left:906px;top:423px;width:78px;height:1px;background:#333"></div>
<div style="position:absolute;left:990px;top:423px;width:71px;height:1px;background:#333"></div>
<div style="position:absolute;left:470.44px;top:429.69px;font:bold 11px/1 'Liberation Sans';color:#262626;white-space:pre;">697,423.55</div>
<div style="position:absolute;left:593.69px;top:429.69px;font:bold 11px/1 'Liberation Sans';color:#262626;white-space:pre;">68.87%</div>
<div style="position:absolute;left:686.69px;top:429.69px;font:bold 11px/1 'Liberation Sans';color:#262626;white-space:pre;">68.87%</div>
<div style="position:absolute;left:780.69px;top:429.69px;font:bold 11px/1 'Liberation Sans';color:#262626;white-space:pre;">10.00%</div>
<div style="position:absolute;left:868.80px;top:429.69px;font:bold 11px/1 'Liberation Sans';color:#262626;white-space:pre;">5.00%</div>
<div style="position:absolute;left:946.69px;top:429.69px;font:bold 11px/1 'Liberation Sans';color:#262626;white-space:pre;">15.00%</div>
<div style="position:absolute;left:1023.69px;top:429.69px;font:bold 11px/1 'Liberation Sans';color:#262626;white-space:pre;">58.87%</div>
<div style="position:absolute;left:33.80px;top:447.69px;font:bold 11px/1 'Liberation Sans';color:#262626;white-space:pre;">Liquidity/USD</div>
<div style="position:absolute;left:157.50px;top:465.69px;font:normal 11px/1 'Liberation Sans';color:#000;white-space:pre;">Account: 2009-220301-USD</div>
<div style="position:absolute;left:425.08px;top:465.69px;font:normal 11px/1 'Liberation Sans';color:#000;white-space:pre;">1.00</div>
<div style="position:absolute;left:476.56px;top:465.69px;font:normal 11px/1 'Liberation Sans';color:#000;white-space:pre;">72,081.00</div>
<div style="position:absolute;left:599.80px;top:465.69px;font:normal 11px/1 'Liberation Sans';color:#000;white-space:pre;">7.12%</div>
<div style="position:absolute;left:692.80px;top:465.69px;font:normal 11px/1 'Liberation Sans';color:#000;white-space:pre;">7.12%</div>
<div style="position:absolute;left:786.80px;top:465.69px;font:normal 11px/1 'Liberation Sans';color:#000;white-space:pre;">5.00%</div>
<div style="position:absolute;left:868.80px;top:465.69px;font:normal 11px/1 'Liberation Sans';color:#000;white-space:pre;">3.00%</div>
<div style="position:absolute;left:952.80px;top:465.69px;font:normal 11px/1 'Liberation Sans';color:#000;white-space:pre;">7.00%</div>
<div style="position:absolute;left:1029.80px;top:465.69px;font:normal 11px/1 'Liberation Sans';color:#000;white-space:pre;">2.12%</div>
<svg style="position:absolute;left:1076px;top:462.2px" width="16" height="16"><path d="M8 1.6L14.4 8L8 14.4L1.6 8Z" fill="#f6f62a" stroke="#000" stroke-width="1.5"/><path d="M8 4.4v4.6" stroke="#000" stroke-width="2.2"/><rect x="7" y="10.2" width="2" height="1.6" fill="#000"/></svg>
<div style="position:absolute;left:452px;top:480px;width:73px;height:1px;background:#333"></div>
<div style="position:absolute;left:531px;top:480px;width:100px;height:1px;background:#333"></div>
<div style="position:absolute;left:637px;top:480px;width:87px;height:1px;background:#333"></div>
<div style="position:absolute;left:730px;top:480px;width:88px;height:1px;background:#333"></div>
<div style="position:absolute;left:824px;top:480px;width:76px;height:1px;background:#333"></div>
<div style="position:absolute;left:906px;top:480px;width:78px;height:1px;background:#333"></div>
<div style="position:absolute;left:990px;top:480px;width:71px;height:1px;background:#333"></div>
<div style="position:absolute;left:476.56px;top:486.69px;font:bold 11px/1 'Liberation Sans';color:#262626;white-space:pre;">72,081.00</div>
<div style="position:absolute;left:599.80px;top:486.69px;font:bold 11px/1 'Liberation Sans';color:#262626;white-space:pre;">7.12%</div>
<div style="position:absolute;left:692.80px;top:486.69px;font:bold 11px/1 'Liberation Sans';color:#262626;white-space:pre;">7.12%</div>
<div style="position:absolute;left:786.80px;top:486.69px;font:bold 11px/1 'Liberation Sans';color:#262626;white-space:pre;">5.00%</div>
<div style="position:absolute;left:868.80px;top:486.69px;font:bold 11px/1 'Liberation Sans';color:#262626;white-space:pre;">3.00%</div>
<div style="position:absolute;left:952.80px;top:486.69px;font:bold 11px/1 'Liberation Sans';color:#262626;white-space:pre;">7.00%</div>
<div style="position:absolute;left:1029.80px;top:486.69px;font:bold 11px/1 'Liberation Sans';color:#262626;white-space:pre;">2.12%</div>
<div style="position:absolute;left:9.30px;top:504.69px;font:bold 11px/1 'Liberation Sans';color:#262626;white-space:pre;">2008-150301</div>
<div style="position:absolute;left:21.30px;top:522.69px;font:bold 11px/1 'Liberation Sans';color:#262626;white-space:pre;">2008-150301/ Growth</div>
<div style="position:absolute;left:33.80px;top:540.69px;font:bold 11px/1 'Liberation Sans';color:#262626;white-space:pre;">Liquidity/EUR</div>
<div style="position:absolute;left:157.50px;top:558.69px;font:normal 11px/1 'Liberation Sans';color:#000;white-space:pre;">Account: 2008-150301</div>
<div style="position:absolute;left:425.08px;top:558.69px;font:normal 11px/1 'Liberation Sans';color:#000;white-space:pre;">1.00</div>
<div style="position:absolute;left:472.89px;top:558.69px;font:normal 11px/1 'Liberation Sans';color:#000;white-space:pre;">-72,800.33</div>
<div style="position:absolute;left:590.02px;top:558.69px;font:normal 11px/1 'Liberation Sans';color:#000;white-space:pre;">-40.48%</div>
<div style="position:absolute;left:683.02px;top:558.69px;font:normal 11px/1 'Liberation Sans';color:#000;white-space:pre;">-40.48%</div>
<div style="position:absolute;left:780.69px;top:558.69px;font:normal 11px/1 'Liberation Sans';color:#000;white-space:pre;">10.00%</div>
<div style="position:absolute;left:868.80px;top:558.69px;font:normal 11px/1 'Liberation Sans';color:#000;white-space:pre;">5.00%</div>
<div style="position:absolute;left:946.69px;top:558.69px;font:normal 11px/1 'Liberation Sans';color:#000;white-space:pre;">15.00%</div>
<div style="position:absolute;left:1020.02px;top:558.69px;font:normal 11px/1 'Liberation Sans';color:#000;white-space:pre;">-50.48%</div>
<svg style="position:absolute;left:1076px;top:555.2px" width="16" height="16"><path d="M8 1.6L14.4 8L8 14.4L1.6 8Z" fill="#f6f62a" stroke="#000" stroke-width="1.5"/><path d="M8 4.4v4.6" stroke="#000" stroke-width="2.2"/><rect x="7" y="10.2" width="2" height="1.6" fill="#000"/></svg>
<div style="position:absolute;left:452px;top:573px;width:73px;height:1px;background:#333"></div>
<div style="position:absolute;left:531px;top:573px;width:100px;height:1px;background:#333"></div>
<div style="position:absolute;left:637px;top:573px;width:87px;height:1px;background:#333"></div>
<div style="position:absolute;left:730px;top:573px;width:88px;height:1px;background:#333"></div>
<div style="position:absolute;left:824px;top:573px;width:76px;height:1px;background:#333"></div>
<div style="position:absolute;left:906px;top:573px;width:78px;height:1px;background:#333"></div>
<div style="position:absolute;left:990px;top:573px;width:71px;height:1px;background:#333"></div>
<div style="position:absolute;left:472.89px;top:579.69px;font:bold 11px/1 'Liberation Sans';color:#262626;white-space:pre;">-72,800.33</div>
<div style="position:absolute;left:590.02px;top:579.69px;font:bold 11px/1 'Liberation Sans';color:#262626;white-space:pre;">-40.48%</div>
<div style="position:absolute;left:683.02px;top:579.69px;font:bold 11px/1 'Liberation Sans';color:#262626;white-space:pre;">-40.48%</div>
<div style="position:absolute;left:780.69px;top:579.69px;font:bold 11px/1 'Liberation Sans';color:#262626;white-space:pre;">10.00%</div>
<div style="position:absolute;left:868.80px;top:579.69px;font:bold 11px/1 'Liberation Sans';color:#262626;white-space:pre;">5.00%</div>
<div style="position:absolute;left:946.69px;top:579.69px;font:bold 11px/1 'Liberation Sans';color:#262626;white-space:pre;">15.00%</div>
<div style="position:absolute;left:1020.02px;top:579.69px;font:bold 11px/1 'Liberation Sans';color:#262626;white-space:pre;">-50.48%</div>
<div style="position:absolute;left:0px;top:636px;width:1114px;height:20px;background:#f0f0f0"></div>
<div style="position:absolute;left:0px;top:636px;width:1114px;height:1px;background:#d0d0d0"></div>
<div style="position:absolute;left:1.90px;top:641.69px;font:normal 11px/1 'Liberation Sans';color:#000;white-space:pre;transform:scaleX(1.0196);transform-origin:0 0;">Objects: 4</div>
<div style="position:absolute;left:1112px;top:637px;width:1px;height:18px;background:#f8f8f8"></div>
<div style="position:absolute;left:1px;top:654px;width:1112px;height:1px;background:#f8f8f8"></div>
<div style="position:absolute;left:0px;top:0px;width:1px;height:656px;background:#8e9aa1"></div>
<div style="position:absolute;left:1113px;top:0px;width:1px;height:656px;background:#8e9aa1"></div>
<div style="position:absolute;left:0px;top:0px;width:1114px;height:1px;background:#8e9aa1"></div>
<div style="position:absolute;left:0px;top:655px;width:1114px;height:1px;background:#8e9aa1"></div></body></html>
